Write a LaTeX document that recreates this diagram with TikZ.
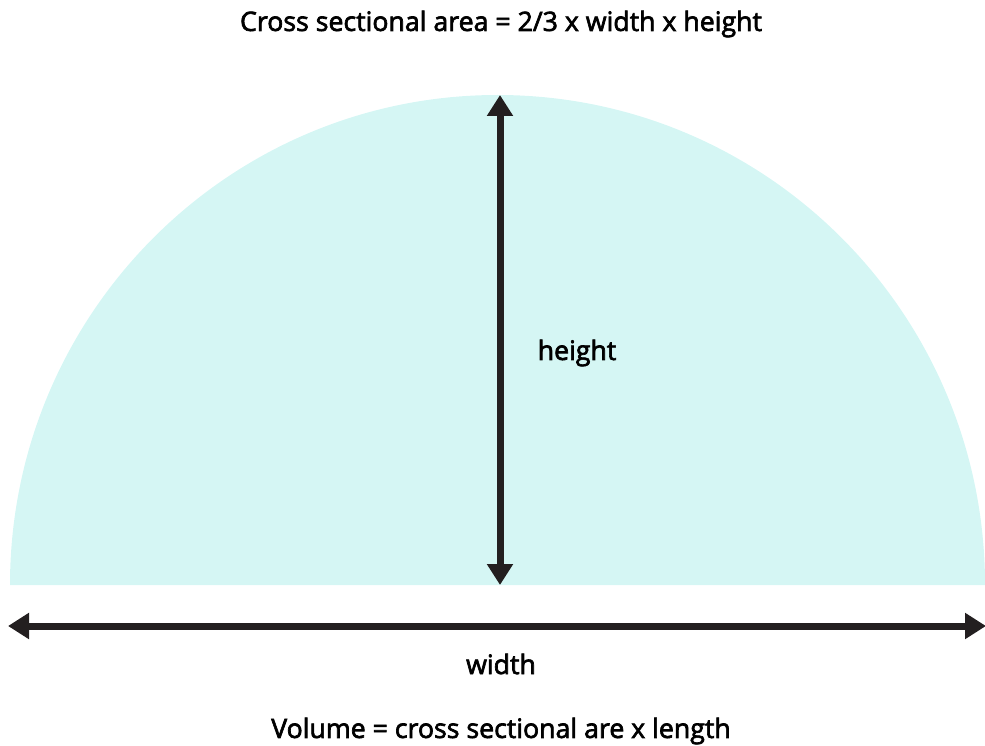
\documentclass[tikz,border=0pt]{standalone}
\usepackage{fontspec}
\setmainfont{Open Sans}
\newfontfamily\lblfont{Open Sans}[FakeBold=2.5]
\usepackage{xcolor}
\usetikzlibrary{arrows.meta}
\definecolor{shapefill}{RGB}{213,246,244}
\definecolor{arrowink}{RGB}{35,31,32}
\tikzset{
  dimarrow/.style={draw=arrowink, line width=7pt,
    {Triangle[width=25pt,length=21pt]}-{Triangle[width=25pt,length=21pt]}},
  lbl/.style={font=\lblfont\fontsize{26.7}{30}\selectfont, text=black, inner sep=0pt}
}
\begin{document}
\begin{tikzpicture}[x=1pt,y=-1pt]
  \useasboundingbox (0,0) rectangle (985,746);
  \fill[shapefill] (10,585) arc[start angle=180, end angle=360, x radius=487.5, y radius=490] -- cycle;
  \coordinate (htop) at (500,95);
  \coordinate (hbot) at (500,585);
  \coordinate (wleft) at (8,626);
  \coordinate (wright) at (986,626);
  \draw[dimarrow] (htop) -- (hbot);
  \draw[dimarrow] (wleft) -- (wright);
  \node[lbl] (title) at (501,24) {Cross sectional area = 2/3 x width x height};
  \node[lbl] (height) at (577,353) {height};
  \node[lbl] (width) at (501,664) {width};
  \node[lbl] (volume) at (501,731) {Volume = cross sectional are x length};
\end{tikzpicture}
\end{document}
